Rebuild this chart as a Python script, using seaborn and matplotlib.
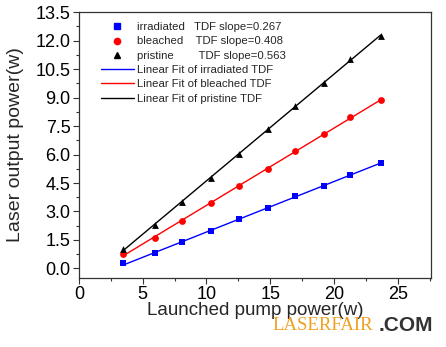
import numpy as np
import pandas as pd
import seaborn as sns
import matplotlib
matplotlib.use("Agg")
import matplotlib.pyplot as plt
from matplotlib.ticker import MultipleLocator
from matplotlib.lines import Line2D

pump = [3.42, 5.96, 8.12, 10.32, 12.54, 14.84, 16.95, 19.25, 21.26, 23.67]
irradiated = [0.28, 0.79, 1.37, 1.95, 2.58, 3.17, 3.84, 4.35, 4.94, 5.56]
bleached = [0.74, 1.63, 2.52, 3.44, 4.33, 5.24, 6.19, 7.08, 7.98, 8.85]
pristine = [1.02, 2.28, 3.49, 4.77, 6.05, 7.33, 8.54, 9.78, 11.04, 12.25]
series_names = ["irradiated", "bleached", "pristine"]
slopes = ["0.267", "0.408", "0.563"]
colors = ["#0000ff", "#ff0000", "#000000"]
markers = ["s", "o", "^"]
yticks = [0.0, 1.5, 3.0, 4.5, 6.0, 7.5, 9.0, 10.5, 12.0, 13.5]
xticks = [0, 5, 10, 15, 20, 25]

sns.set_theme(style="ticks")
plt.rcParams['font.family'] = ['Liberation Sans', 'DejaVu Sans']

fig = plt.figure(figsize=(4.46, 3.47), dpi=100)
ax = fig.add_axes([0.177, 0.199, 0.789, 0.766])

data = {"irradiated": irradiated, "bleached": bleached, "pristine": pristine}
handles = []
labels = []
for name, c, m in zip(series_names, colors, markers):
    df = pd.DataFrame({"x": pump, "y": data[name]})
    sns.regplot(data=df, x="x", y="y", ax=ax, ci=None, scatter=False, truncate=True,
                line_kws=dict(color=c, lw=1.0))
    sns.scatterplot(data=df, x="x", y="y", ax=ax, color=c, marker=m, s=24,
                    edgecolor=c, linewidth=0, zorder=3)

pads = {"irradiated": "   ", "bleached": "    ", "pristine": "        "}
for name, c, m, s in zip(series_names, colors, markers, slopes):
    handles.append(Line2D([], [], ls="none", marker=m, color=c, markersize=4.5))
    labels.append(f"{name}{pads[name]}TDF slope={s}")
for name, c in zip(series_names, colors):
    handles.append(Line2D([], [], color=c, lw=1.0))
    labels.append(f"Linear Fit of {name} TDF")

ax.legend(handles, labels, loc="upper left", frameon=False, fontsize=8.2,
          bbox_to_anchor=(0.043, 0.988), handlelength=2.9, labelspacing=0.38,
          handletextpad=0.3, borderaxespad=0.2)

ax.set_xlim(0, 27.6)
ax.set_ylim(-0.5, 13.5)
ax.set_xticks(xticks)
ax.set_yticks(yticks)
ax.set_yticklabels([f"{v:.1f}" for v in yticks])
ax.xaxis.set_minor_locator(MultipleLocator(2.5))
ax.yaxis.set_minor_locator(MultipleLocator(0.75))
ax.tick_params(axis="both", which="major", direction="out", length=4, width=0.8,
               labelsize=13, pad=2, colors="#333333", labelcolor="black")
ax.tick_params(axis="both", which="minor", direction="out", length=2, width=0.8, colors="#333333")
for sp in ax.spines.values():
    sp.set_linewidth(0.9)
    sp.set_color("#333333")

ax.set_xlabel("Launched pump power(w)", fontsize=13.5)
ax.set_ylabel("Laser output power(w)", fontsize=14)
ax.xaxis.set_label_coords(0.5, -0.092)
ax.yaxis.set_label_coords(-0.155, 0.5)

fig.text(0.612, 0.063, "LASERFAIR", color="#f0a020", fontsize=13.5,
         family=["Liberation Serif", "DejaVu Serif"], va="center", ha="left")
fig.text(0.850, 0.063, ".COM", color="#333333", fontsize=15, fontweight="bold",
         va="center", ha="left")

fig.savefig("out.png", dpi=100)
